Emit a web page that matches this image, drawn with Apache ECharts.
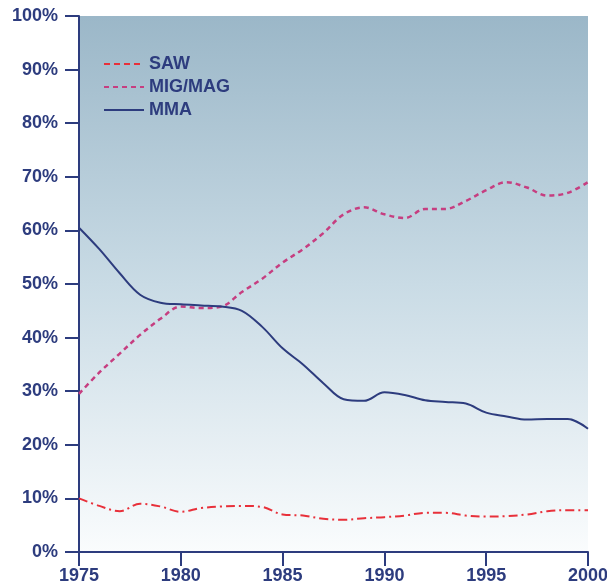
<!DOCTYPE html>
<html>
<head>
<meta charset="utf-8">
<script src="https://cdn.jsdelivr.net/npm/echarts@6/dist/echarts.min.js"></script>
<style>
  html, body { margin: 0; padding: 0; background: #fff; }
  #chart { width: 607px; height: 588px; }
</style>
</head>
<body>
<div id="chart"></div>
<script>
// 年份
const years = [1975, 1976, 1977, 1978, 1979, 1980, 1981, 1982, 1983, 1984, 1985, 1986, 1987,
  1988, 1989, 1990, 1991, 1992, 1993, 1994, 1995, 1996, 1997, 1998, 1999, 2000];
// 各工艺占比 (%)
const saw = [10, 8.6, 7.6, 9, 8.5, 7.5, 8.2, 8.5, 8.6, 8.4, 7, 6.8, 6.2,
  6, 6.3, 6.5, 6.8, 7.3, 7.3, 6.8, 6.6, 6.7, 7, 7.6, 7.8, 7.8];
const migMag = [29.5, 33.5, 37, 40.5, 43.5, 45.8, 45.5, 45.8, 48.5, 51, 54, 56.5, 59.5,
  63, 64.3, 63, 62.3, 64, 64, 65.5, 67.5, 69, 68, 66.5, 67, 69];
const mma = [60.5, 56.5, 52, 48, 46.5, 46.2, 46, 45.8, 45, 42, 38, 35, 31.5,
  28.5, 28.2, 29.8, 29.3, 28.3, 28, 27.7, 26, 25.3, 24.7, 24.8, 24.8, 23];

const navy = '#2d3c7e';
const font = 'Liberation Sans, Arial, sans-serif';

const chart = echarts.init(document.getElementById('chart'));

const pair = (vals) => years.map((y, i) => [y, vals[i]]);

chart.setOption({
  backgroundColor: '#fff',
  animation: false,
  grid: {
    left: 79,
    right: 19,
    top: 16,
    bottom: 36,
    containLabel: false,
    outerBoundsMode: 'none',
    show: true,
    borderWidth: 0,
    backgroundColor: new echarts.graphic.LinearGradient(0, 0, 0, 1, [
      { offset: 0, color: '#9bb7c8' },
      { offset: 0.5, color: '#c9dbe5' },
      { offset: 1, color: '#fafcfd' }
    ])
  },
  legend: {
    orient: 'vertical',
    left: 98,
    top: 50,
    itemWidth: 40,
    itemHeight: 18,
    itemGap: 5,
    itemStyle: { opacity: 0 },
    textStyle: { color: navy, fontSize: 18, fontWeight: 'bold', fontFamily: font },
    data: [
      { name: 'SAW', lineStyle: { type: [6, 4] } },
      { name: 'MIG/MAG' },
      { name: 'MMA' }
    ]
  },
  xAxis: {
    type: 'value',
    min: 1975,
    max: 2000,
    interval: 5,
    splitLine: { show: false },
    axisLine: { lineStyle: { color: navy, width: 2 } },
    axisTick: { show: true, length: 14, lineStyle: { color: navy, width: 2 } },
    axisLabel: {
      color: navy, fontSize: 18, fontWeight: 'bold', fontFamily: font, margin: 15,
      formatter: (v) => String(v)
    }
  },
  yAxis: {
    type: 'value',
    min: 0,
    max: 100,
    interval: 10,
    splitLine: { show: false },
    axisLine: { show: true, lineStyle: { color: navy, width: 2 } },
    axisTick: { show: true, length: 14, lineStyle: { color: navy, width: 2 } },
    axisLabel: {
      color: navy, fontSize: 18, fontWeight: 'bold', fontFamily: font, margin: 21,
      formatter: '{value}%'
    }
  },
  series: [
    {
      name: 'SAW',
      type: 'line',
      data: pair(saw),
      smooth: 0.35,
      symbol: 'none',
      color: '#e8303a',
      lineStyle: { width: 2, type: [9, 4, 2, 4] }
    },
    {
      name: 'MIG/MAG',
      type: 'line',
      data: pair(migMag),
      smooth: 0.35,
      symbol: 'none',
      color: '#c63e80',
      lineStyle: { width: 2.5, type: [5, 4] }
    },
    {
      name: 'MMA',
      type: 'line',
      data: pair(mma),
      smooth: 0.35,
      symbol: 'none',
      color: navy,
      lineStyle: { width: 2 }
    }
  ]
});
</script>
</body>
</html>
